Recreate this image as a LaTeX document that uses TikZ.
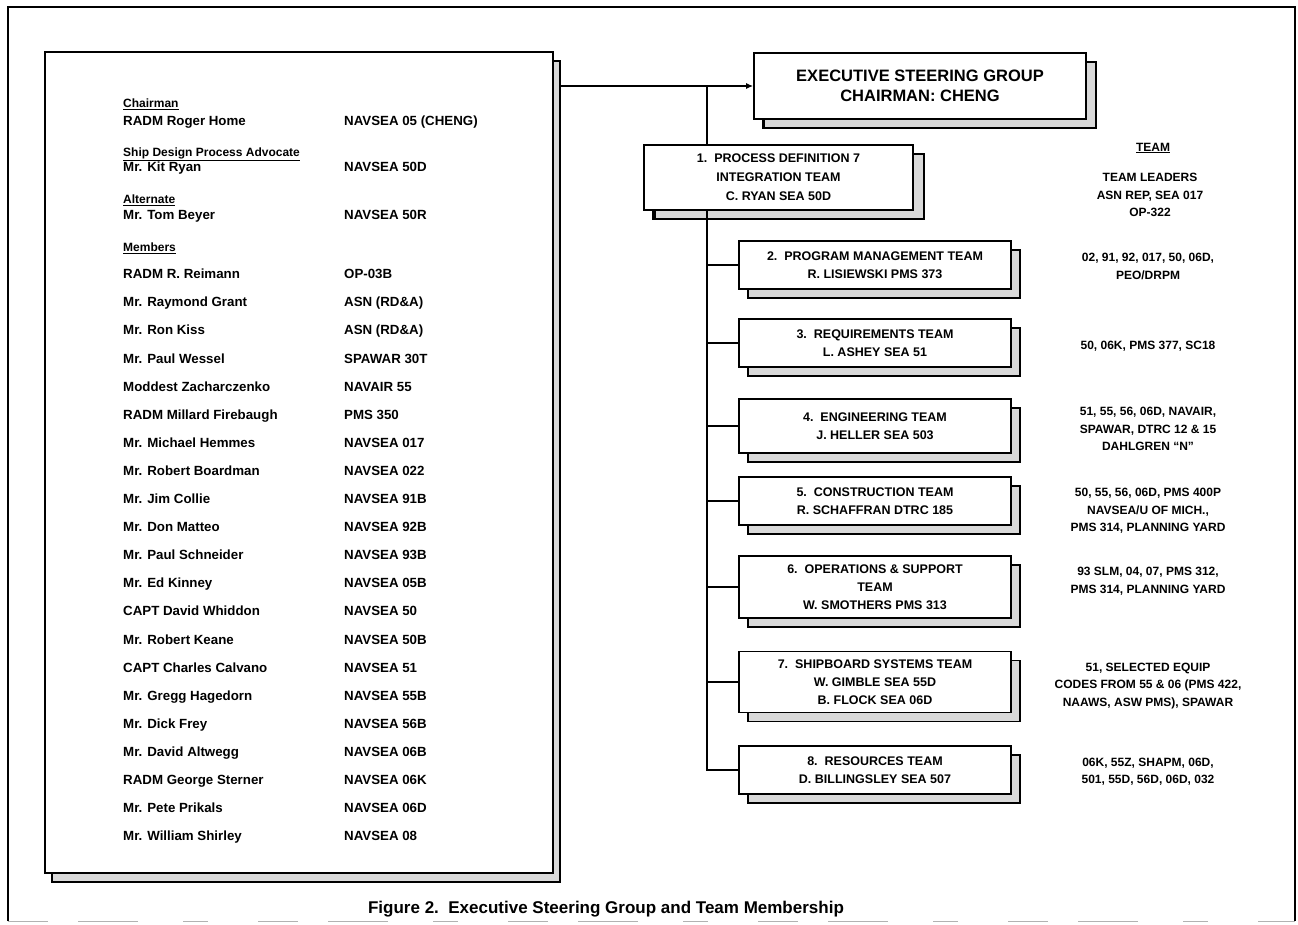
\documentclass[tikz,border=0pt]{standalone}
\usepackage{fontspec}
\setmainfont{Liberation Sans}
\usetikzlibrary{shadows,arrows.meta}
\begin{document}
\begin{tikzpicture}[x=1pt,y=-1pt,
  conn/.style={line width=1.3pt, draw=black},
  boxshadow/.style={copy shadow={shadow xshift=#1, shadow yshift=-9pt, draw=black, line width=1.2pt, fill=gray!30}},
  card/.style={draw=black, line width=1.8pt, fill=white, rectangle, inner sep=0pt,
    align=center, font=\fontsize{12.5}{18}\selectfont\bfseries, boxshadow=9pt},
  team/.style={draw=none, inner sep=0pt, align=center, font=\fontsize{12}{17.5}\selectfont\bfseries},
  panel/.style={draw=black, line width=1.6pt, fill=white, rectangle, inner sep=0pt,
    minimum width=508pt, minimum height=821pt, boxshadow=7pt},
  row/.style={anchor=base west, inner sep=0pt, font=\fontsize{13.3}{15}\selectfont\bfseries},
  rowhead/.style={anchor=base west, inner sep=0pt, font=\fontsize{12}{14}\selectfont\bfseries},
]
% page and frame
\fill[white] (0,0) rectangle (1298,924);
\useasboundingbox (0,0) rectangle (1298,924);
\draw[line width=1.3pt] (8,921) -- (8,7) -- (1295,7) -- (1295,921);
\draw[gray!60, line width=1pt, dash pattern=on 40pt off 30pt on 60pt off 45pt on 25pt off 50pt] (8,921) -- (1295,921);

% roster panel
\def\nx{123}
\def\cx{344}
\node[panel] (roster) at (299,462.5) {};
\node[rowhead] (hchair) at (\nx,107.5) {\underline{Chairman}};
\node[row] (nchair) at (\nx,125.7) {RADM Roger Home};
\node[row] (cchair) at (\cx,125.7) {NAVSEA 05 (CHENG)};
\node[rowhead] (hadv) at (\nx,156.5) {\underline{Ship Design Process Advocate}};
\node[row] (nadv) at (\nx,171.7) {Mr. Kit Ryan};
\node[row] (cadv) at (\cx,171.7) {NAVSEA 50D};
\node[rowhead] (halt) at (\nx,203.5) {\underline{Alternate}};
\node[row] (nalt) at (\nx,219.7) {Mr. Tom Beyer};
\node[row] (calt) at (\cx,219.7) {NAVSEA 50R};
\node[rowhead] (hmem) at (\nx,251.5) {\underline{Members}};
\foreach \nm/\cd [count=\i from 0] in {
  RADM R. Reimann/OP-03B,
  Mr. Raymond Grant/ASN (RD\&A),
  Mr. Ron Kiss/ASN (RD\&A),
  Mr. Paul Wessel/SPAWAR 30T,
  Moddest Zacharczenko/NAVAIR 55,
  RADM Millard Firebaugh/PMS 350,
  Mr. Michael Hemmes/NAVSEA 017,
  Mr. Robert Boardman/NAVSEA 022,
  Mr. Jim Collie/NAVSEA 91B,
  Mr. Don Matteo/NAVSEA 92B,
  Mr. Paul Schneider/NAVSEA 93B,
  Mr. Ed Kinney/NAVSEA 05B,
  CAPT David Whiddon/NAVSEA 50,
  Mr. Robert Keane/NAVSEA 50B,
  CAPT Charles Calvano/NAVSEA 51,
  Mr. Gregg Hagedorn/NAVSEA 55B,
  Mr. Dick Frey/NAVSEA 56B,
  Mr. David Altwegg/NAVSEA 06B,
  RADM George Sterner/NAVSEA 06K,
  Mr. Pete Prikals/NAVSEA 06D,
  Mr. William Shirley/NAVSEA 08} {
  \node[row] (mn\i) at (\nx,278.7+28.1*\i) {\nm};
  \node[row] (mc\i) at (\cx,278.7+28.1*\i) {\cd};
}

% executive steering group and teams
\node[card, minimum width=332pt, minimum height=66pt, font=\fontsize{16.5}{20}\selectfont\bfseries, boxshadow=10pt]
  (esg) at (920,86) {EXECUTIVE STEERING GROUP\\CHAIRMAN: CHENG};
\node[card, minimum width=269pt, minimum height=65pt, font=\fontsize{12.5}{19}\selectfont\bfseries, boxshadow=11pt]
  (b1) at (778.5,177.5) {1.\ \ PROCESS DEFINITION 7\\INTEGRATION TEAM\\C. RYAN SEA 50D};
\node[card, minimum width=272pt, minimum height=48pt] (b2) at (875,265)
  {2.\ \ PROGRAM MANAGEMENT TEAM\\R. LISIEWSKI PMS 373};
\node[card, minimum width=272pt, minimum height=48pt] (b3) at (875,343)
  {3.\ \ REQUIREMENTS TEAM\\L. ASHEY SEA 51};
\node[card, minimum width=272pt, minimum height=54pt] (b4) at (875,426)
  {4.\ \ ENGINEERING TEAM\\J. HELLER SEA 503};
\node[card, minimum width=272pt, minimum height=48pt] (b5) at (875,501)
  {5.\ \ CONSTRUCTION TEAM\\R. SCHAFFRAN DTRC 185};
\node[card, minimum width=272pt, minimum height=62pt] (b6) at (875,587)
  {6.\ \ OPERATIONS \& SUPPORT\\TEAM\\W. SMOTHERS PMS 313};
\node[card, minimum width=272pt, minimum height=61pt] (b7) at (875,682)
  {7.\ \ SHIPBOARD SYSTEMS TEAM\\W. GIMBLE SEA 55D\\B. FLOCK SEA 06D};
\node[card, minimum width=272pt, minimum height=48pt] (b8) at (875,770)
  {8.\ \ RESOURCES TEAM\\D. BILLINGSLEY SEA 507};

% connectors
\coordinate (jn) at (707,86);
\draw[conn, -{Latex[length=7pt,width=6pt]}] ([xshift=7pt]roster.east |- esg.west) -- (esg.west);
\draw[conn] (jn) -- (jn |- b1.north);
\foreach \b in {b2,b3,b4,b5,b6,b7,b8} {
  \draw[conn] (jn |- b1.south) |- (\b.west);
}

% team membership column
\node[team] (thead) at (1153,148) {\underline{TEAM}};
\node[team] (t1) at (1150,195) {TEAM LEADERS\\ASN REP, SEA 017\\OP-322};
\node[team] (t2) at (1148,266.5) {02, 91, 92, 017, 50, 06D,\\PEO/DRPM};
\node[team] (t3) at (1148,346) {50, 06K, PMS 377, SC18};
\node[team] (t4) at (1148,429) {51, 55, 56, 06D, NAVAIR,\\SPAWAR, DTRC 12 \& 15\\DAHLGREN ``N''};
\node[team] (t5) at (1148,511) {50, 55, 56, 06D, PMS 400P\\NAVSEA/U OF MICH.,\\PMS 314, PLANNING YARD};
\node[team] (t6) at (1148,581) {93 SLM, 04, 07, PMS 312,\\PMS 314, PLANNING YARD};
\node[team] (t7) at (1148,686) {51, SELECTED EQUIP\\CODES FROM 55 \& 06 (PMS 422,\\NAAWS, ASW PMS), SPAWAR};
\node[team] (t8) at (1148,771.5) {06K, 55Z, SHAPM, 06D,\\501, 55D, 56D, 06D, 032};

% caption
\node[inner sep=0pt, font=\fontsize{17}{20}\selectfont\bfseries] (cap) at (606,909)
  {Figure 2.\ \ Executive Steering Group and Team Membership};
\end{tikzpicture}
\end{document}
